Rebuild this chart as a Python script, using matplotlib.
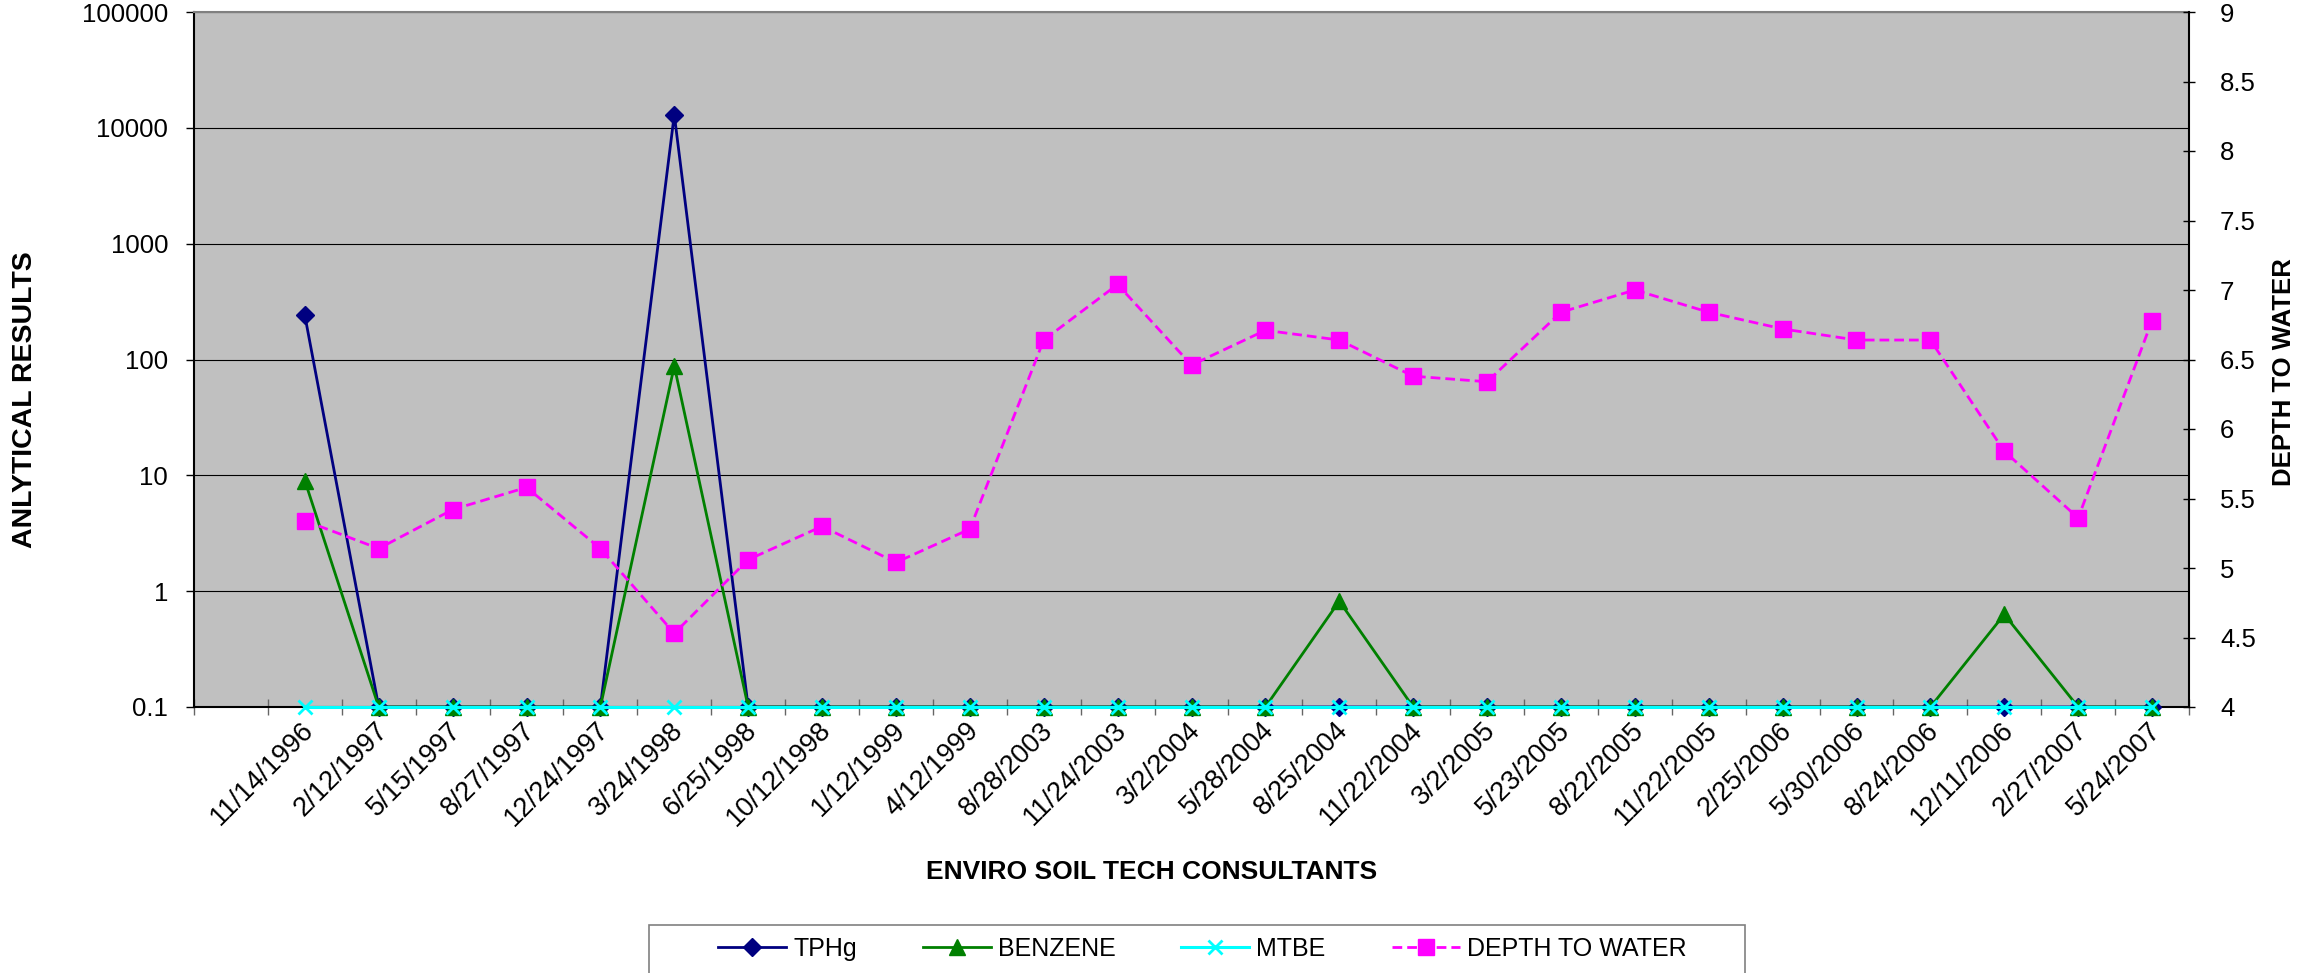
import numpy as np
import matplotlib
matplotlib.use('Agg')
import matplotlib.pyplot as plt
from matplotlib.patches import Rectangle
from matplotlib.transforms import ScaledTranslation
from matplotlib.ticker import FixedLocator, FixedFormatter, NullLocator, NullFormatter

plt.rcParams['font.family'] = ['Liberation Sans', 'DejaVu Sans']

dates = ['11/14/1996', '2/12/1997', '5/15/1997', '8/27/1997', '12/24/1997',
         '3/24/1998', '6/25/1998', '10/12/1998', '1/12/1999', '4/12/1999',
         '8/28/2003', '11/24/2003', '3/2/2004', '5/28/2004', '8/25/2004',
         '11/22/2004', '3/2/2005', '5/23/2005', '8/22/2005', '11/22/2005',
         '2/25/2006', '5/30/2006', '8/24/2006', '12/11/2006', '2/27/2007',
         '5/24/2007']
tphg = [240, 0.1, 0.1, 0.1, 0.1, 13000, 0.1, 0.1, 0.1, 0.1,
        0.1, 0.1, 0.1, 0.1, 0.1, 0.1, 0.1, 0.1, 0.1, 0.1,
        0.1, 0.1, 0.1, 0.1, 0.1, 0.1]
benzene = [9, 0.1, 0.1, 0.1, 0.1, 88, 0.1, 0.1, 0.1, 0.1,
           0.1, 0.1, 0.1, 0.1, 0.82, 0.1, 0.1, 0.1, 0.1, 0.1,
           0.1, 0.1, 0.1, 0.63, 0.1, 0.1]
mtbe = [0.1, 0.1, 0.1, 0.1, 0.1, 0.1, 0.1, 0.1, 0.1, 0.1,
        0.1, 0.1, 0.1, 0.1, 0.1, 0.1, 0.1, 0.1, 0.1, 0.1,
        0.1, 0.1, 0.1, 0.1, 0.1, 0.1]
depth = [5.34, 5.14, 5.42, 5.58, 5.14, 4.53, 5.06, 5.30, 5.04, 5.28,
         6.64, 7.04, 6.46, 6.71, 6.64, 6.38, 6.34, 6.84, 7.00, 6.84,
         6.72, 6.64, 6.64, 5.84, 5.36, 6.78]

left_ticks = [0.1, 1, 10, 100, 1000, 10000, 100000]
left_labels = ['0.1', '1', '10', '100', '1000', '10000', '100000']
right_ticks = [4, 4.5, 5, 5.5, 6, 6.5, 7, 7.5, 8, 8.5, 9]
right_labels = ['4', '4.5', '5', '5.5', '6', '6.5', '7', '7.5', '8', '8.5', '9']

W, H = 2304, 973
fig = plt.figure(figsize=(W / 100, H / 100), dpi=100)
ax = fig.add_axes([194 / W, 1 - 707 / H, (2189 - 194) / W, (707 - 12) / H])
ax.set_facecolor('#C0C0C0')

x = np.arange(1, len(dates) + 1)
ax.plot(x, tphg, color='#000080', lw=2, marker='D', ms=9.5, clip_on=False, zorder=3, label='TPHg')
ax.plot(x, benzene, color='#008000', lw=2, marker='^', ms=11, clip_on=False, zorder=3, label='BENZENE')
ax.plot(x, mtbe, color='#00FFFF', lw=2.2, marker='x', ms=10, mew=2, clip_on=False, zorder=3, label='MTBE')

ax.set_yscale('log')
ax.set_ylim(0.1, 100000)
ax.set_xlim(-0.5, len(dates) + 0.5)

ax.xaxis.set_major_locator(FixedLocator(np.arange(-0.5, len(dates) + 1)))
ax.xaxis.set_major_formatter(NullFormatter())
ax.xaxis.set_minor_locator(FixedLocator(x))
ax.xaxis.set_minor_formatter(FixedFormatter(dates))
ax.tick_params(axis='x', which='major', direction='inout', length=11.5, width=1, color='#666666')
ax.tick_params(axis='x', which='minor', length=0, pad=14, labelsize=19.5, labelrotation=45)
for lbl in ax.get_xticklabels(minor=True):
    lbl.set_ha('right')
    lbl.set_va('center')
    lbl.set_rotation_mode('anchor')
    lbl.set_transform(lbl.get_transform() + ScaledTranslation(0.05, 0, fig.dpi_scale_trans))

ax.yaxis.set_major_locator(FixedLocator(left_ticks))
ax.yaxis.set_major_formatter(FixedFormatter(left_labels))
ax.yaxis.set_minor_locator(NullLocator())
ax.tick_params(axis='y', direction='out', length=6, width=1, pad=12.7, labelsize=18.5, color='black')
ax.grid(axis='y', which='major', color='black', lw=0.8)
ax.set_axisbelow(True)

ax.spines['top'].set_color('#808080')
ax.spines['top'].set_linewidth(1.5)
ax.spines['right'].set_visible(False)
for s in ['left', 'bottom']:
    ax.spines[s].set_color('black')
    ax.spines[s].set_linewidth(1.5)

ax2 = ax.twinx()
ax2.plot(x, depth, color='#FF00FF', lw=2, ls=(0, (3.5, 1.8)), marker='s', ms=11,
         clip_on=False, label='DEPTH TO WATER')
ax2.set_ylim(4, 9)
ax2.yaxis.set_major_locator(FixedLocator(right_ticks))
ax2.yaxis.set_major_formatter(FixedFormatter(right_labels))
ax2.tick_params(axis='y', direction='inout', length=8.6, width=1, pad=18, labelsize=18.5)
for s in ['top', 'bottom', 'left']:
    ax2.spines[s].set_visible(False)
ax2.spines['right'].set_color('black')
ax2.spines['right'].set_linewidth(1.5)

fig.text(25 / W, 1 - 400 / H, 'ANLYTICAL RESULTS', rotation=90, ha='center', va='center',
         fontsize=20.5, fontweight='bold')
fig.text(2284 / W, 1 - 372 / H, 'DEPTH TO WATER', rotation=90, ha='center', va='center',
         fontsize=18.5, fontweight='bold')
fig.text(1152 / W, 1 - 872 / H, 'ENVIRO SOIL TECH CONSULTANTS', ha='center', va='center',
         fontsize=19, fontweight='bold')

handles = ax.get_lines() + ax2.get_lines()
fig.legend(handles, [h.get_label() for h in handles], loc='center left',
           bbox_to_anchor=(718 / W, 1 - 949 / H), ncol=4, frameon=False, fontsize=18,
           handlelength=2.72, handletextpad=0.28, columnspacing=2.64,
           borderpad=0, borderaxespad=0)
fig.add_artist(Rectangle((649 / W, 1 - 1000 / H), (1745 - 649) / W, (1000 - 925) / H,
                         transform=fig.transFigure, fill=False, edgecolor='#808080', lw=1.2))

fig.savefig('out.png', dpi=100)
